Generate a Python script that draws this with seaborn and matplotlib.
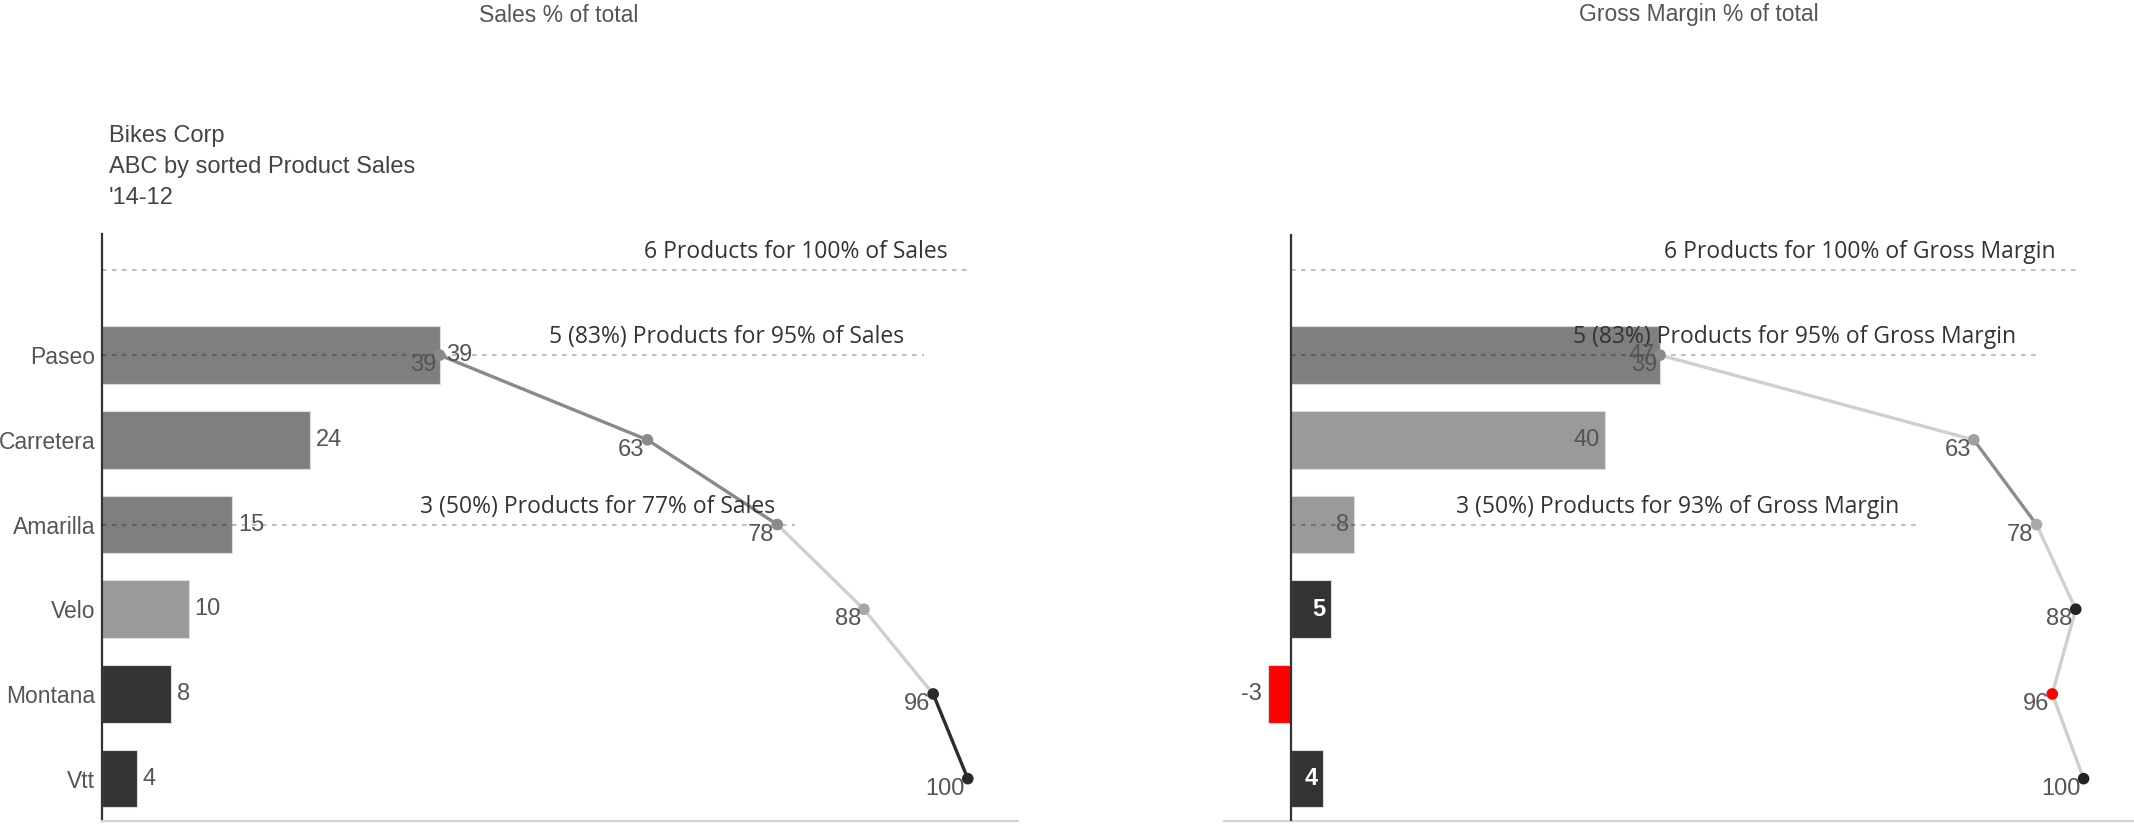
import matplotlib
matplotlib.use("Agg")
import matplotlib.pyplot as plt
import pandas as pd
import seaborn as sns

# ---- data ----
products = ["Paseo", "Carretera", "Amarilla", "Velo", "Montana", "Vtt"]
sales_pct = [39, 24, 15, 10, 8, 4]
sales_cum = [39, 63, 78, 88, 96, 100]
gm_pct = [47, 40, 8, 5, -3, 4]
gm_cum = [47, 87, 95, 100, 97, 101]
cum_labels = [39, 63, 78, 88, 96, 100]

sales_refs = ["6 Products for 100% of Sales",
              "5 (83%) Products for 95% of Sales",
              "3 (50%) Products for 77% of Sales"]
gm_refs = ["6 Products for 100% of Gross Margin",
           "5 (83%) Products for 95% of Gross Margin",
           "3 (50%) Products for 93% of Gross Margin"]
subtitle = ["Bikes Corp", "ABC by sorted Product Sales", "'14-12"]

# ---- styling ----
A, B, C, NEG = "#7f7f7f", "#9a9a9a", "#333333", "#ff0000"
LIGHT = "#cfcfcf"
sales_bar_colors = [A, A, A, B, C, C]
sales_seg_colors = ["#8a8a8a", "#8a8a8a", LIGHT, LIGHT, "#2b2b2b"]
sales_pt_colors = ["#8a8a8a", "#8a8a8a", "#8a8a8a", "#a6a6a6", "#2b2b2b", "#2b2b2b"]
gm_bar_colors = [A, B, B, C, NEG, C]
gm_seg_colors = [LIGHT, "#8c8c8c", LIGHT, LIGHT, LIGHT]
gm_pt_colors = ["#8a8a8a", "#a0a0a0", "#a8a8a8", "#222222", NEG, "#222222"]

sns.set_theme(style="white")
plt.rcParams["font.family"] = ["Liberation Sans", "DejaVu Sans"]
NOTE_FONT = ["Open Sans", "DejaVu Sans"]

W, H = 2134, 827
fig = plt.figure(figsize=(W / 100, H / 100), dpi=100)
top_px, bot_px = 234, 821
ax1 = fig.add_axes([102 / W, (H - bot_px) / H, (1018 - 102) / W, (bot_px - top_px) / H])
ax2 = fig.add_axes([1224 / W, (H - bot_px) / H, (W - 1 - 1224) / W, (bot_px - top_px) / H])

TXT = "#555555"
FS = 17


def panel(ax, values, cum, bar_colors, seg_colors, pt_colors, refs, xlim,
          inside_labels):
    df = pd.DataFrame({"product": products, "value": values})
    sns.barplot(data=df, x="value", y="product", hue="product",
                palette=dict(zip(products, bar_colors)), width=0.68,
                saturation=1, legend=False, ax=ax, orient="h", zorder=2,
                edgecolor="#dcdcdc", linewidth=0.8)
    ax.set_xlim(*xlim)
    ax.set_ylim(5.5, -1.43)
    ax.set_xticks([])
    ax.set_xlabel("")
    ax.set_ylabel("")
    for s in ("top", "right"):
        ax.spines[s].set_visible(False)
    ax.spines["bottom"].set_color("#d4d4d4")
    ax.spines["bottom"].set_linewidth(1.6)

    # reference lines with their captions
    ref_rows = [-1, 0, 2]
    ref_ends = [100, 95, 80]
    for txt, row, end in zip(refs, ref_rows, ref_ends):
        ax.plot([0, end], [row, row], color="black", alpha=0.25,
                ls=(0, (2.2, 2.6)), lw=1.5, zorder=3)
        ax.annotate(txt, (end, row), xytext=(-20, 18), textcoords="offset pixels",
                    ha="right", va="center", fontsize=16.5, color="#333333",
                    family=NOTE_FONT, zorder=6)

    # cumulative curve
    rows = list(range(len(products)))
    for i in range(1, len(cum)):
        ax.plot([cum[i - 1], cum[i]], [rows[i - 1], rows[i]],
                color=seg_colors[i - 1], lw=2.4, zorder=4,
                solid_capstyle="round")
    ax.scatter(cum, rows, c=pt_colors, s=70, zorder=5, linewidths=0)
    for lbl, x, r in zip(cum_labels, cum, rows):
        ax.annotate(str(lbl), (x, r), xytext=(-3, -10), textcoords="offset pixels",
                    ha="right", va="center", fontsize=FS, color=TXT, zorder=6)

    # bar value labels
    for v, r, col in zip(values, rows, bar_colors):
        if not inside_labels:
            ax.annotate(str(v), (v, r), xytext=(6, 0), textcoords="offset pixels",
                        ha="left", va="center", fontsize=FS, color=TXT, zorder=6)
        elif v < 0:
            ax.annotate(str(v), (v, r), xytext=(-6, 0), textcoords="offset pixels",
                        ha="right", va="center", fontsize=FS, color=TXT, zorder=6)
        elif col == C:
            ax.annotate(str(v), (v, r), xytext=(-5, 0), textcoords="offset pixels",
                        ha="right", va="center", fontsize=FS, color="white",
                        fontweight="bold", zorder=6)
        else:
            ax.annotate(str(v), (v, r), xytext=(-5, 0), textcoords="offset pixels",
                        ha="right", va="center", fontsize=FS, color=TXT, zorder=6)


panel(ax1, sales_pct, sales_cum, sales_bar_colors, sales_seg_colors,
      sales_pt_colors, sales_refs, (0, 105.8), inside_labels=False)
ax1.spines["left"].set_color("#333333")
ax1.spines["left"].set_linewidth(1.6)
ax1.tick_params(axis="y", length=0, pad=5, labelsize=16.5, labelcolor=TXT)

panel(ax2, gm_pct, gm_cum, gm_bar_colors, gm_seg_colors,
      gm_pt_colors, gm_refs, (-8.6, 107.3), inside_labels=True)
ax2.spines["left"].set_visible(False)
ax2.set_yticks([])
ax2.axvline(0, color="#333333", lw=1.6, zorder=3)

# titles
fig.text(559 / W, 1 - 15 / H, "Sales % of total", ha="center", va="center",
         fontsize=16.5, color=TXT)
fig.text(1699 / W, 1 - 15 / H, "Gross Margin % of total", ha="center",
         va="center", fontsize=16.5, color=TXT)
for i, line in enumerate(subtitle):
    fig.text(109 / W, 1 - (136 + 31 * i) / H, line, ha="left", va="center",
             fontsize=17, color="#444444")

fig.savefig("out.png", dpi=100)
